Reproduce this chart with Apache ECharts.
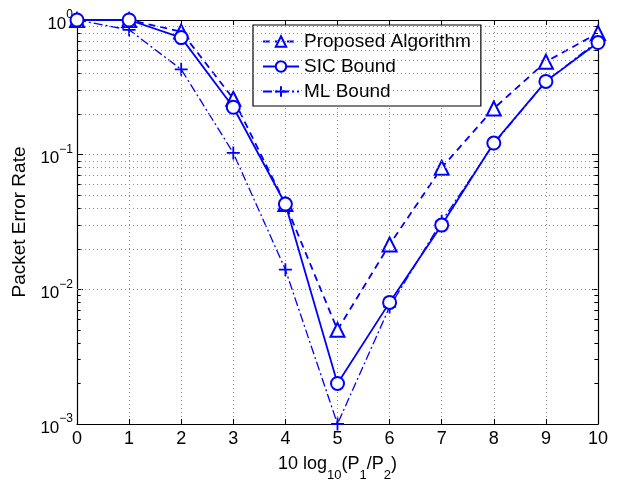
<!DOCTYPE html>
<html>
<head>
<meta charset="utf-8">
<script src="https://cdn.jsdelivr.net/npm/echarts@6/dist/echarts.min.js"></script>
<style>html,body{margin:0;padding:0;background:#fff;}#c{width:622px;height:487px;}</style>
</head>
<body>
<div id="c"></div>
<script>
const xValues = [0, 1, 2, 3, 4, 5, 6, 7, 8, 9, 10];
const proposed = [1.0, 1.0, 0.82, 0.26, 0.043, 0.005, 0.0215, 0.080, 0.22, 0.49, 0.80];
const sicBound = [1.0, 1.0, 0.74, 0.225, 0.043, 0.002, 0.008, 0.030, 0.122, 0.35, 0.68];
const mlBound = [1.0, 0.845, 0.43, 0.103, 0.014, 0.001, 0.0074, 0.032, 0.12, 0.35, 0.70];
const seriesNames = ['Proposed Algorithm', 'SIC Bound', 'ML Bound'];
const yDecades = [0.001, 0.01, 0.1, 1];
const minorMultipliers = [2, 3, 4, 5, 6, 7, 8, 9];

const FONT = '"Liberation Sans", Arial, Helvetica, sans-serif';
const BLUE = '#0000ff';
const minorVals = [];
for (let d = 0; d < yDecades.length - 1; d++) {
  for (const m of minorMultipliers) minorVals.push(+(m * yDecades[d]).toPrecision(3));
}
const pairs = arr => xValues.map((x, i) => [x, arr[i]]);
const gridStyle = { color: '#8c8c8c', width: 1, type: [1, 3] };
const tickStyle = { color: '#000', width: 1, type: 'solid' };

const minorTickSegs = [];
for (const v of minorVals) {
  minorTickSegs.push([{ coord: [0, v] }, { coord: [0.07, v] }]);
  minorTickSegs.push([{ coord: [9.93, v] }, { coord: [10, v] }]);
}

const chart = echarts.init(document.getElementById('c'));
chart.setOption({
  animation: false,
  backgroundColor: '#fff',
  textStyle: { fontFamily: FONT },
  grid: { left: 77, right: 24, top: 20, bottom: 56, containLabel: false },
  legend: {
    left: 253, top: 25,
    orient: 'vertical',
    backgroundColor: '#fff',
    borderColor: '#000', borderWidth: 1.2,
    padding: [7, 10, 5, 9],
    itemGap: 6,
    itemWidth: 36, itemHeight: 13,
    textStyle: { fontFamily: FONT, fontSize: 19, color: '#000' },
    data: seriesNames
  },
  xAxis: [{
    type: 'value', min: 0, max: 10, interval: 1,
    name: '{a|10 log}{s|10}{a|(P}{s|1}{a|/P}{s|2}{a|)}',
    nameLocation: 'middle', nameGap: 31,
    nameTextStyle: {
      rich: {
        a: { fontFamily: FONT, fontSize: 18, color: '#000', verticalAlign: 'top' },
        s: { fontFamily: FONT, fontSize: 13, color: '#000', padding: [14, 0, 0, 0], verticalAlign: 'top' }
      }
    },
    axisLine: { show: true, lineStyle: { color: '#000', width: 1.2 } },
    axisTick: { show: true, inside: true, length: 5, lineStyle: { color: '#000' } },
    axisLabel: { fontFamily: FONT, fontSize: 18, color: '#000', margin: 6 },
    splitLine: { show: true, lineStyle: gridStyle }
  }, {
    type: 'value', min: 0, max: 10, interval: 1, position: 'top',
    axisLine: { show: true, onZero: false, lineStyle: { color: '#000', width: 1.2 } },
    axisTick: { show: true, inside: true, length: 5, lineStyle: { color: '#000' } },
    axisLabel: { show: false }, splitLine: { show: false }
  }],
  yAxis: [{
    type: 'log', logBase: 10, min: 0.001, max: 1,
    name: 'Packet Error Rate', nameLocation: 'middle', nameGap: 45,
    nameTextStyle: { fontFamily: FONT, fontSize: 19, color: '#000' },
    axisLine: { show: true, lineStyle: { color: '#000', width: 1.2 } },
    axisTick: { show: true, inside: true, length: 6, lineStyle: { color: '#000' } },
    axisLabel: {
      fontFamily: FONT, color: '#000', margin: 4,
      formatter: v => '{b|10}{s|' + String(Math.round(Math.log10(v))).replace('-', '\u2212') + '}',
      rich: {
        b: { fontFamily: FONT, fontSize: 17, color: '#000', padding: [8, 0, 0, 0] },
        s: { fontFamily: FONT, fontSize: 12, color: '#000', padding: [0, 0, 10, 0] }
      }
    },
    splitLine: { show: true, lineStyle: gridStyle }
  }, {
    type: 'log', logBase: 10, min: 0.001, max: 1, position: 'right',
    axisLine: { show: true, onZero: false, lineStyle: { color: '#000', width: 1.2 } },
    axisTick: { show: true, inside: true, length: 6, lineStyle: { color: '#000' } },
    axisLabel: { show: false }, splitLine: { show: false }
  }],
  series: [
    {
      name: 'minor-grid', type: 'line', data: [], silent: true,
      markLine: {
        silent: true, symbol: ['none', 'none'], label: { show: false },
        lineStyle: gridStyle, animation: false,
        data: minorVals.map(v => ({ yAxis: v }))
      }
    },
    {
      name: 'minor-ticks', type: 'line', data: [], silent: true,
      markLine: {
        silent: true, symbol: ['none', 'none'], label: { show: false },
        lineStyle: tickStyle, animation: false,
        data: minorTickSegs
      }
    },
    {
      name: seriesNames[0], type: 'line', data: pairs(proposed), clip: false, z: 4,
      symbol: 'emptyTriangle', symbolSize: 14,
      lineStyle: { color: BLUE, width: 1.8, type: [7, 5] },
      itemStyle: { color: BLUE, borderColor: BLUE, borderWidth: 1.6 }
    },
    {
      name: seriesNames[1], type: 'line', data: pairs(sicBound), clip: false, z: 5,
      symbol: 'emptyCircle', symbolSize: 13,
      lineStyle: { color: BLUE, width: 1.8, type: 'solid' },
      itemStyle: { color: BLUE, borderColor: BLUE, borderWidth: 1.6 }
    },
    {
      name: seriesNames[2], type: 'line', data: pairs(mlBound), clip: false, z: 3,
      symbol: 'path://M5,0L5,10M0,5L10,5', symbolSize: 13, symbolKeepAspect: true,
      lineStyle: { color: BLUE, width: 1.3, type: [9, 3, 2, 3] },
      itemStyle: { color: 'none', borderColor: BLUE, borderWidth: 1.8 }
    }
  ]
});
</script>
</body>
</html>
